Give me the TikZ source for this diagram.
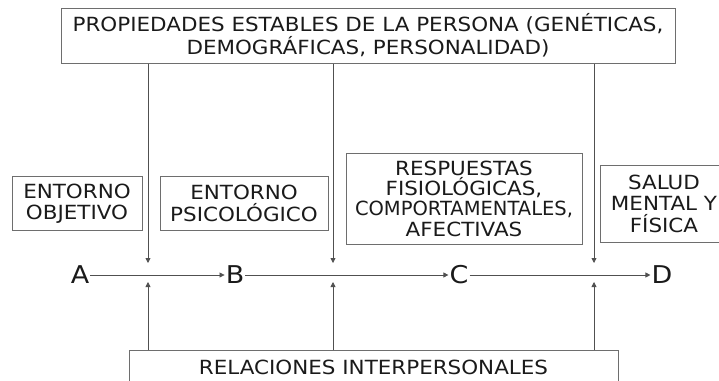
\documentclass[tikz,border=0pt]{standalone}
\usepackage{fontspec}
\setmainfont{DejaVu Sans}[FakeStretch=1.1]
\newfontfamily\narrowfam{DejaVu Sans}
\usetikzlibrary{arrows.meta}
\definecolor{boxgray}{HTML}{6E6E6E}
\definecolor{linegray}{HTML}{505050}
\definecolor{txt}{HTML}{1A1A1A}
\begin{document}
\begin{tikzpicture}[x=1pt,y=-1pt,
  lbox/.style={draw=boxgray,line width=1pt,text=txt,align=center,inner sep=0pt,font=\fontsize{19.5}{21.5}\selectfont},
  letter/.style={text=txt,inner sep=1pt,font=\fontsize{24.5}{26}\selectfont},
  conn/.style={draw=linegray,line width=0.8pt,-{Triangle[length=5pt,width=5pt]}}]
\useasboundingbox (0,0) rectangle (719,380);
\clip (0,0) rectangle (719,380);
\node[lbox,minimum width=614pt,minimum height=55pt,font=\fontsize{19.5}{23}\selectfont] (top) at (368,35.5) {PROPIEDADES ESTABLES DE LA PERSONA (GENÉTICAS,\\DEMOGRÁFICAS, PERSONALIDAD)};
\node[lbox,minimum width=130pt,minimum height=54pt] (obj) at (77,203.5) {ENTORNO\\OBJETIVO};
\node[lbox,minimum width=168pt,minimum height=54pt] (psi) at (244,203.5) {ENTORNO\\PSICOLÓGICO};
\node[lbox,minimum width=236pt,minimum height=91pt,font=\fontsize{19.5}{20.3}\selectfont] (resp) at (464,198.5) {RESPUESTAS\\FISIOLÓGICAS,\\{\narrowfam COMPORTAMENTALES,}\\AFECTIVAS};
\node[lbox,minimum width=128pt,minimum height=77pt] (salud) at (664,203.5) {SALUD\\MENTAL Y\\FÍSICA};
\node[lbox,minimum width=489pt,minimum height=34pt,anchor=north] (bot) at (373.5,350) {RELACIONES INTERPERSONALES};
\node[letter] (A) at (80,275) {A};
\node[letter] (B) at (235,275) {B};
\node[letter] (C) at (459,275) {C};
\node[letter] (D) at (662,275) {D};
\draw[conn] (A) -- (B);
\draw[conn] (B) -- (C);
\draw[conn] (C) -- (D);
\coordinate (t1) at (148,263); \coordinate (t2) at (333,263); \coordinate (t3) at (594,263);
\coordinate (b1) at (148,282); \coordinate (b2) at (333,282); \coordinate (b3) at (594,282);
\foreach \c in {t1,t2,t3} \draw[conn] (top.south -| \c) -- (\c);
\foreach \c in {b1,b2,b3} \draw[conn] (bot.north -| \c) -- (\c);
\end{tikzpicture}
\end{document}
